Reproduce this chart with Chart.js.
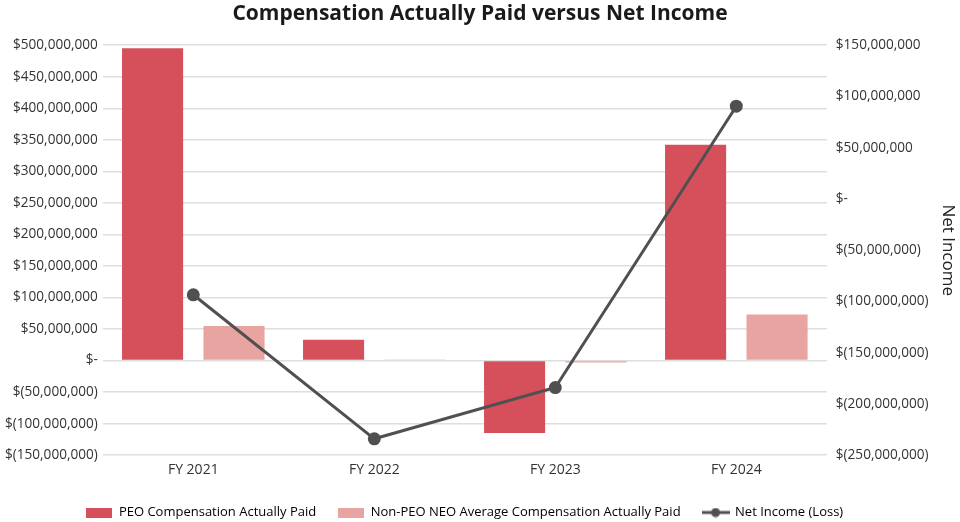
<!DOCTYPE html>
<html lang="en">
<head>
    <meta charset="UTF-8">
    <title>Compensation Actually Paid versus Net Income</title>
    <style>
        body { margin: 0; background: #ffffff; }
        canvas { display: block; }
    </style>
</head>
<body>
    <canvas id="capChart" width="960" height="522"></canvas>

    <script src="https://cdn.jsdelivr.net/npm/chart.js"></script>
    <script>
        // values (estimated)
        const years = ['FY 2021', 'FY 2022', 'FY 2023', 'FY 2024'];
        const peoPaid = [495000000, 33000000, -115000000, 342000000];
        const neoAvgPaid = [55000000, 1000000, -3000000, 73000000];
        const netIncome = [-93500000, -234000000, -184000000, 90500000];

        const peoColor = '#d6505c';
        const neoColor = '#e8a4a0';
        const lineColor = '#505050';
        const fontFamily = "'Open Sans', 'Noto Sans', sans-serif";

        function money(v) {
            if (v === 0) return '$-';
            const s = Math.abs(v).toLocaleString('en-US');
            return v < 0 ? '$(' + s + ')' : '$' + s;
        }

        // small legend icons
        function boxIcon(color) {
            const c = document.createElement('canvas');
            c.width = 26; c.height = 10;
            const g = c.getContext('2d');
            g.fillStyle = color;
            g.fillRect(0, 0, 26, 10);
            return c;
        }
        function lineIcon() {
            const c = document.createElement('canvas');
            c.width = 28; c.height = 10;
            const g = c.getContext('2d');
            g.strokeStyle = lineColor;
            g.lineWidth = 3;
            g.beginPath(); g.moveTo(0, 5); g.lineTo(28, 5); g.stroke();
            g.fillStyle = lineColor;
            g.beginPath(); g.arc(14, 5, 4.5, 0, Math.PI * 2); g.fill();
            return c;
        }
        const icons = [boxIcon(peoColor), boxIcon(neoColor), lineIcon()];

        // legend is centred under the plot area, not the whole canvas
        const centerLegend = {
            id: 'centerLegend',
            afterLayout(chart) {
                const lg = chart.legend, area = chart.chartArea;
                const shift = (area.left + area.right) / 2 - (lg.left + lg.right) / 2;
                lg.left += shift;
                lg.right += shift;
            }
        };

        Chart.defaults.font.family = fontFamily;
        Chart.defaults.color = '#222';

        const ctx = document.getElementById('capChart').getContext('2d');
        new Chart(ctx, {
            data: {
                labels: years,
                datasets: [{
                    type: 'bar',
                    label: 'PEO Compensation Actually Paid',
                    data: peoPaid,
                    backgroundColor: peoColor,
                    yAxisID: 'y',
                    order: 1,
                    categoryPercentage: 0.9,
                    barPercentage: 0.75
                }, {
                    type: 'bar',
                    label: 'Non-PEO NEO Average Compensation Actually Paid',
                    data: neoAvgPaid,
                    backgroundColor: neoColor,
                    yAxisID: 'y',
                    order: 1,
                    categoryPercentage: 0.9,
                    barPercentage: 0.75
                }, {
                    type: 'line',
                    label: 'Net Income (Loss)',
                    data: netIncome,
                    borderColor: lineColor,
                    backgroundColor: lineColor,
                    borderWidth: 3,
                    pointRadius: 5,
                    pointHoverRadius: 5,
                    tension: 0,
                    yAxisID: 'y1',
                    order: 0
                }]
            },
            options: {
                responsive: false,
                animation: false,
                layout: { padding: { left: 0, right: 0, top: 1, bottom: -7 } },
                plugins: {
                    title: {
                        display: true,
                        text: 'Compensation Actually Paid versus Net Income',
                        font: { size: 21, weight: 'bold' },
                        color: '#1a1a1a',
                        padding: { top: 0, bottom: 19 }
                    },
                    legend: {
                        position: 'bottom',
                        labels: {
                            usePointStyle: true,
                            pointStyleWidth: 26,
                            boxHeight: 10,
                            padding: 22,
                            font: { size: 13 },
                            color: '#333',
                            generateLabels(chart) {
                                return chart.data.datasets.map((ds, i) => ({
                                    text: ds.label,
                                    pointStyle: icons[i],
                                    fillStyle: ds.backgroundColor,
                                    strokeStyle: ds.backgroundColor,
                                    lineWidth: 0,
                                    hidden: false,
                                    datasetIndex: i
                                }));
                            }
                        }
                    },
                    tooltip: { enabled: false }
                },
                scales: {
                    x: {
                        grid: { display: false, drawTicks: false },
                        border: { display: false },
                        ticks: { font: { size: 14 }, color: '#333', padding: 6 }
                    },
                    y: {
                        position: 'left',
                        min: -150000000,
                        max: 500000000,
                        ticks: {
                            stepSize: 50000000,
                            font: { size: 13.6 },
                            color: '#333',
                            padding: 5,
                            callback: v => money(v)
                        },
                        grid: { color: '#dedede', lineWidth: 1.5, drawTicks: false },
                        border: { display: false }
                    },
                    y1: {
                        position: 'right',
                        min: -250000000,
                        max: 150000000,
                        ticks: {
                            stepSize: 50000000,
                            font: { size: 13.6 },
                            color: '#333',
                            padding: 9,
                            callback: v => money(v)
                        },
                        grid: { display: false, drawTicks: false },
                        border: { display: false },
                        title: {
                            display: true,
                            text: 'Net Income',
                            font: { size: 17 },
                            color: '#222',
                            padding: { top: 2, bottom: 0 }
                        }
                    }
                }
            },
            plugins: [centerLegend]
        });
    </script>
</body>
</html>
